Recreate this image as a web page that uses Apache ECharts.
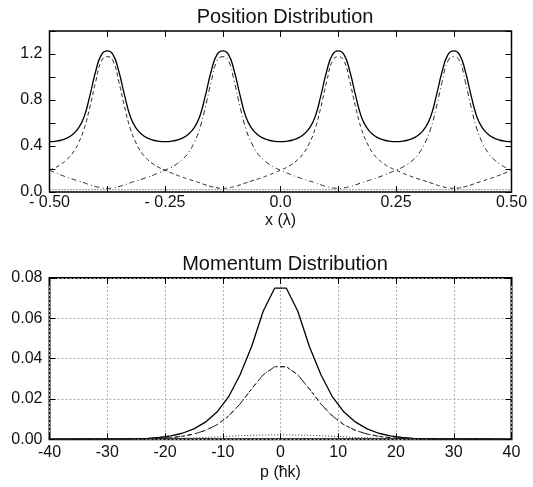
<!DOCTYPE html>
<html><head><meta charset="utf-8">
<script src="https://cdn.jsdelivr.net/npm/echarts@6/dist/echarts.min.js"></script>
<style>html,body{margin:0;padding:0;background:#fff}#c{width:533px;height:487px}</style>
</head><body><div id="c"></div>
<script>
// ---------- Position distribution data ----------
const posX = [-0.5,-0.4875,-0.475,-0.4625,-0.45,-0.4375,-0.425,-0.4125,-0.4,-0.3875,-0.375,-0.3625,-0.35,-0.3375,-0.325,-0.3125,-0.3,-0.2875,-0.275,-0.2625,-0.25,-0.2375,-0.225,-0.2125,-0.2,-0.1875,-0.175,-0.1625,-0.15,-0.1375,-0.125,-0.1125,-0.1,-0.0875,-0.075,-0.0625,-0.05,-0.0375,-0.025,-0.0125,0,0.0125,0.025,0.0375,0.05,0.0625,0.075,0.0875,0.1,0.1125,0.125,0.1375,0.15,0.1625,0.175,0.1875,0.2,0.2125,0.225,0.2375,0.25,0.2625,0.275,0.2875,0.3,0.3125,0.325,0.3375,0.35,0.3625,0.375,0.3875,0.4,0.4125,0.425,0.4375,0.45,0.4625,0.475,0.4875,0.5];
const posTotal = [0.438,0.441,0.45,0.468,0.5,0.555,0.655,0.84,1.05,1.195,1.228,1.195,1.05,0.84,0.655,0.555,0.5,0.468,0.45,0.441,
  0.438,0.441,0.45,0.468,0.5,0.555,0.655,0.84,1.05,1.195,1.228,1.195,1.05,0.84,0.655,0.555,0.5,0.468,0.45,0.441,
  0.438,0.441,0.45,0.468,0.5,0.555,0.655,0.84,1.05,1.195,1.228,1.195,1.05,0.84,0.655,0.555,0.5,0.468,0.45,0.441,
  0.438,0.441,0.45,0.468,0.5,0.555,0.655,0.84,1.05,1.195,1.228,1.195,1.05,0.84,0.655,0.555,0.5,0.468,0.45,0.441,0.438];
const posDashed = [0.19,0.212,0.242,0.282,0.338,0.425,0.55,0.74,0.96,1.14,1.177,
  1.14,0.96,0.74,0.55,0.425,0.338,0.282,0.242,0.212,0.19,0.168,0.148,0.129,0.112,0.096,0.08,0.062,0.047,0.036,0.032,
  0.036,0.047,0.062,0.08,0.096,0.112,0.129,0.148,0.168,0.19,0.212,0.242,0.282,0.338,0.425,0.55,0.74,0.96,1.14,1.177,
  1.14,0.96,0.74,0.55,0.425,0.338,0.282,0.242,0.212,0.19,0.168,0.148,0.129,0.112,0.096,0.08,0.062,0.047,0.036,0.032,
  0.036,0.047,0.062,0.08,0.096,0.112,0.129,0.148,0.168,0.19];
const posDashDot = [0.19,0.168,0.148,0.129,0.112,0.096,0.08,0.062,0.047,0.036,0.032,
  0.036,0.047,0.062,0.08,0.096,0.112,0.129,0.148,0.168,0.19,0.212,0.242,0.282,0.338,0.425,0.55,0.74,0.96,1.14,1.177,
  1.14,0.96,0.74,0.55,0.425,0.338,0.282,0.242,0.212,0.19,0.168,0.148,0.129,0.112,0.096,0.08,0.062,0.047,0.036,0.032,
  0.036,0.047,0.062,0.08,0.096,0.112,0.129,0.148,0.168,0.19,0.212,0.242,0.282,0.338,0.425,0.55,0.74,0.96,1.14,1.177,
  1.14,0.96,0.74,0.55,0.425,0.338,0.282,0.242,0.212,0.19];
const posDotX = [-0.5,-0.25,0,0.25,0.5];
const posDotted = [0.02,0.02,0.02,0.02,0.02];
const posXTicks = [-0.5,-0.25,0,0.25,0.5];
const posXTickLabels = ['- 0.50','- 0.25','0.0','0.25','0.50'];
const posYTicks = [0,0.4,0.8,1.2];
const posYTickLabels = ['0.0','0.4','0.8','1.2'];

// ---------- Momentum distribution data ----------
const momP = [-39,-37,-35,-33,-31,-29,-27,-25,-23,-21,-19,-17,-15,-13,-11,-9,-7,-5,-3,-1,1,3,5,7,9,11,13,15,17,19,21,23,25,27,29,31,33,35,37,39];
const momTotal = [0,0.00001,0.00002,0.00003,0.00005,0.0001,0.00015,0.0003,0.0005,0.0009,0.0017,0.003,0.0052,0.0085,0.0135,0.021,0.032,0.046,0.0635,0.075,
  0.075,0.0635,0.046,0.032,0.021,0.0135,0.0085,0.0052,0.003,0.0017,0.0009,0.0005,0.0003,0.00015,0.0001,0.00005,0.00003,0.00002,0.00001,0];
const momCompA = [0,0,0,0,0.00001,0.00002,0.00005,0.0001,0.0002,0.0004,0.0008,0.0015,0.0026,0.0044,0.0072,0.0115,0.0175,0.025,0.032,0.036,
  0.036,0.032,0.025,0.0175,0.0115,0.0072,0.0044,0.0026,0.0015,0.0008,0.0004,0.0002,0.0001,0.00005,0.00002,0.00001,0,0,0,0];
const momCompB = [0,0,0,0,0.00001,0.00002,0.00005,0.0001,0.0002,0.0004,0.0008,0.0015,0.0026,0.0044,0.0072,0.0115,0.0175,0.025,0.032,0.036,
  0.036,0.032,0.025,0.0175,0.0115,0.0072,0.0044,0.0026,0.0015,0.0008,0.0004,0.0002,0.0001,0.00005,0.00002,0.00001,0,0,0,0];
const momDotted = [0,0,0,0,0,0,0,0.00005,0.0001,0.0002,0.0003,0.0005,0.0007,0.0009,0.0012,0.0015,0.0018,0.002,0.0021,0.0022,
  0.0022,0.0021,0.002,0.0018,0.0015,0.0012,0.0009,0.0007,0.0005,0.0003,0.0002,0.0001,0.00005,0,0,0,0,0,0,0];
const momXTicks = [-40,-30,-20,-10,0,10,20,30,40];
const momXTickLabels = ['-40','-30','-20','-10','0','10','20','30','40'];
const momYTicks = [0,0.02,0.04,0.06,0.08];
const momYTickLabels = ['0.00','0.02','0.04','0.06','0.08'];

// ---------- chart ----------
const FONT = 'Liberation Sans';
function lookup(v, ticks, labels){ for (let i=0;i<ticks.length;i++){ if (Math.abs(v-ticks[i])<1e-9) return labels[i]; } return ''; }
function pairs(xs, ys){ return xs.map((x,i)=>[x, ys[i]]); }
const tick = {show:true, inside:true, length:6, lineStyle:{color:'#000', width:1}};
const noLine = {show:false, onZero:false};
const lbl = {color:'#111', fontFamily:FONT, fontSize:16};

const chart = echarts.init(document.getElementById('c'), null, {renderer:'canvas'});
const option = {
  animation:false,
  backgroundColor:'#fff',
  title:[
    {text:'Position Distribution', left:280, top:2, textAlign:'center', textStyle:{fontFamily:FONT, fontSize:20, fontWeight:'normal', color:'#111'}},
    {text:'Momentum Distribution', left:280, top:249, textAlign:'center', textStyle:{fontFamily:FONT, fontSize:20, fontWeight:'normal', color:'#111'}}
  ],
  grid:[
    {left:49.5, right:21.5, top:31, height:161, show:true, borderColor:'#000', borderWidth:1.5, backgroundColor:'transparent'},
    {left:49.5, right:21.5, top:278, height:161.3, show:true, borderColor:'#000', borderWidth:2, backgroundColor:'transparent'}
  ],
  xAxis:[
    {gridIndex:0, type:'value', min:-0.5, max:0.5, interval:0.125, position:'bottom',
     name:'x (λ)', nameLocation:'middle', nameGap:21, nameTextStyle:{fontFamily:FONT, fontSize:16, color:'#111'},
     axisLine:noLine, axisTick:tick, splitLine:{show:false},
     axisLabel:Object.assign({margin:3, showMinLabel:true, showMaxLabel:true, formatter:v=>lookup(v,posXTicks,posXTickLabels)}, lbl)},
    {gridIndex:0, type:'value', min:-0.5, max:0.5, interval:0.125, position:'top',
     axisLine:noLine, axisTick:tick, splitLine:{show:false}, axisLabel:{show:false}},
    {gridIndex:1, type:'value', min:-40, max:40, interval:10, position:'bottom',
     name:'p (ħk)', nameLocation:'middle', nameGap:25, nameTextStyle:{fontFamily:FONT, fontSize:16, color:'#111'},
     axisLine:noLine, axisTick:tick, splitLine:{show:true, lineStyle:{color:'#b0b0b0', width:1, type:[2,2]}},
     axisLabel:Object.assign({margin:5, showMinLabel:true, showMaxLabel:true, formatter:v=>lookup(v,momXTicks,momXTickLabels)}, lbl)},
    {gridIndex:1, type:'value', min:-40, max:40, interval:10, position:'top',
     axisLine:noLine, axisTick:tick, splitLine:{show:false}, axisLabel:{show:false}}
  ],
  yAxis:[
    {gridIndex:0, type:'value', min:0, max:1.4, interval:0.2, position:'left',
     axisLine:noLine, axisTick:tick, splitLine:{show:false},
     axisLabel:Object.assign({margin:7, showMinLabel:true, formatter:v=>lookup(v,posYTicks,posYTickLabels)}, lbl)},
    {gridIndex:0, type:'value', min:0, max:1.4, interval:0.2, position:'right',
     axisLine:noLine, axisTick:tick, splitLine:{show:false}, axisLabel:{show:false}},
    {gridIndex:1, type:'value', min:0, max:0.08, interval:0.02, position:'left',
     axisLine:noLine, axisTick:tick, splitLine:{show:true, lineStyle:{color:'#b0b0b0', width:1, type:[2,2]}},
     axisLabel:Object.assign({margin:7, showMinLabel:true, showMaxLabel:true, formatter:v=>lookup(v,momYTicks,momYTickLabels)}, lbl)},
    {gridIndex:1, type:'value', min:0, max:0.08, interval:0.02, position:'right',
     axisLine:noLine, axisTick:tick, splitLine:{show:false}, axisLabel:{show:false}}
  ],
  series:[
    {type:'line', xAxisIndex:0, yAxisIndex:0, data:pairs(posX,posTotal), smooth:0.5, symbol:'none', lineStyle:{color:'#000', width:1.3}},
    {type:'line', xAxisIndex:0, yAxisIndex:0, data:pairs(posX,posDashed), smooth:0.5, symbol:'none', lineStyle:{color:'#222', width:1, type:[4,3]}},
    {type:'line', xAxisIndex:0, yAxisIndex:0, data:pairs(posX,posDashDot), smooth:0.5, symbol:'none', lineStyle:{color:'#222', width:1, type:[5,3,1,3]}},
    {type:'line', xAxisIndex:0, yAxisIndex:0, data:pairs(posDotX,posDotted), symbol:'none', lineStyle:{color:'#333', width:1, type:[1,2]}},
    {type:'line', xAxisIndex:2, yAxisIndex:2, data:pairs(momP,momTotal), symbol:'none', lineStyle:{color:'#000', width:1.3}},
    {type:'line', xAxisIndex:2, yAxisIndex:2, data:pairs(momP,momCompA), symbol:'none', lineStyle:{color:'#222', width:1, type:[4,3]}},
    {type:'line', xAxisIndex:2, yAxisIndex:2, data:pairs(momP,momCompB), symbol:'none', lineStyle:{color:'#222', width:1, type:[5,3,1,3]}},
    {type:'line', xAxisIndex:2, yAxisIndex:2, data:pairs(momP,momDotted), symbol:'none', lineStyle:{color:'#333', width:1, type:[1,2]}}
  ]
};
chart.setOption(option);
</script>
</body></html>
